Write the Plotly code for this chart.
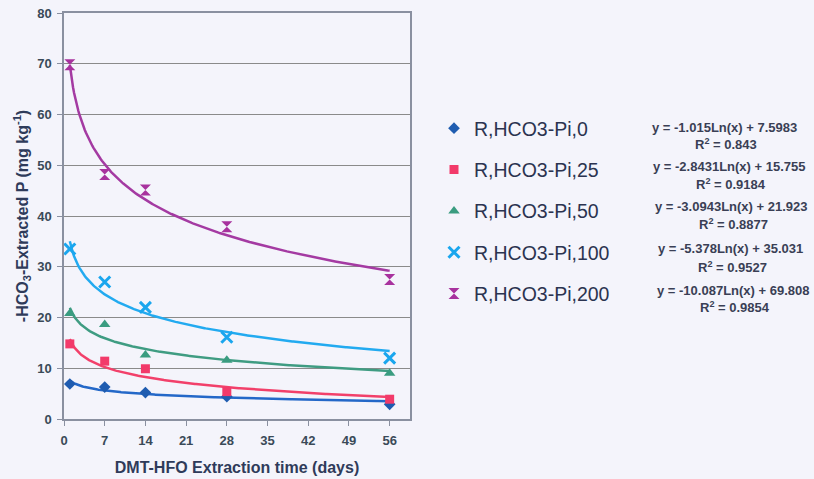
import numpy as np
import plotly.graph_objects as go

# ---- data ----
days = [1, 7, 14, 28, 56]
series_names = ["R,HCO3-Pi,0", "R,HCO3-Pi,25", "R,HCO3-Pi,50", "R,HCO3-Pi,100", "R,HCO3-Pi,200"]
p0 = [6.9, 6.3, 5.2, 4.4, 2.9]
p25 = [14.8, 11.4, 9.9, 5.4, 3.9]
p50 = [20.8, 18.6, 12.6, 11.6, 9.0]
p100 = [33.5, 27.0, 22.0, 16.1, 12.0]
p200 = [69.8, 48.2, 45.1, 37.9, 27.5]
values = [p0, p25, p50, p100, p200]

# displayed trendline equations y = a*Ln(x) + b
slopes = [-1.015, -2.8431, -3.0943, -5.378, -10.087]
intercepts = [7.5983, 15.755, 21.923, 35.031, 69.808]
eq_labels = ["y = -1.015Ln(x) + 7.5983", "y = -2.8431Ln(x) + 15.755", "y = -3.0943Ln(x) + 21.923",
             "y = -5.378Ln(x) + 35.031", "y = -10.087Ln(x) + 69.808"]
r2_labels = ["R<sup>2</sup> = 0.843", "R<sup>2</sup> = 0.9184", "R<sup>2</sup> = 0.8877",
             "R<sup>2</sup> = 0.9527", "R<sup>2</sup> = 0.9854"]
x_ticks = [0, 7, 14, 21, 28, 35, 42, 49, 56]
y_ticks = [0, 10, 20, 30, 40, 50, 60, 70, 80]

# ---- styles ----
colors = ["#1f5cb0", "#f23a6a", "#3a9c80", "#1aa6ee", "#a8329e"]
line_colors = ["#2468c8", "#f2406a", "#3f9c82", "#22aaf0", "#a43aa2"]
symbols = ["diamond", "square", "triangle-up", "x-thin-open", "hourglass"]
sizes = [9, 9, 10, 11, 11]
bg = "#f4f4fb"

L, R, T, B = 64, 404, 13, 60
W, H = 814, 479
pw, ph = W - L - R, H - T - B

fig = go.Figure()
x_fit = np.linspace(1, 56, 300)
for i in range(5):
    fig.add_trace(go.Scatter(
        x=x_fit, y=slopes[i] * np.log(x_fit) + intercepts[i], mode="lines",
        line=dict(color=line_colors[i], width=2.5), showlegend=False, hoverinfo="skip"))
for i in range(5):
    mk = dict(color=colors[i], size=sizes[i], symbol=symbols[i])
    if symbols[i] == "x-thin-open":
        mk["line"] = dict(color=colors[i], width=3)
    fig.add_trace(go.Scatter(
        x=days, y=values[i], mode="markers", name=series_names[i], marker=mk,
        legendgroup=f"g{i}"))

def px2x(px):
    return (px - L) / pw

def py2y(py):
    return (H - B - py) / ph

eq_cx = [724, 729, 731, 730, 733]
eq_y = [127, 166, 206, 249, 290]
r2_y = [144, 184, 224, 267, 307]
eq_font = dict(family="Arial, Liberation Sans", size=13, color="#3a3f55", weight="bold")
ann = []
for i in range(5):
    ann.append(dict(x=px2x(eq_cx[i]), y=py2y(eq_y[i]), xref="paper", yref="paper", text=eq_labels[i],
                    showarrow=False, xanchor="center", yanchor="middle", font=eq_font))
    ann.append(dict(x=px2x(eq_cx[i] + 2), y=py2y(r2_y[i]), xref="paper", yref="paper", text=r2_labels[i],
                    showarrow=False, xanchor="center", yanchor="middle", font=eq_font))

ax_col = "#8a90a0"
tick_font = dict(size=13, family="Arial, Liberation Sans", color="#3a4a58", weight="bold")
fig.update_layout(
    width=W, height=H,
    margin=dict(l=L, r=R, t=T, b=B),
    paper_bgcolor=bg, plot_bgcolor=bg,
    font=dict(family="Arial, Liberation Sans", color="#3a4558"),
    xaxis=dict(range=[0, 59.5], tickvals=x_ticks, showgrid=False, zeroline=False, automargin=False,
               showline=True, linecolor=ax_col, linewidth=1.5, mirror=True,
               ticks="outside", ticklen=5, tickcolor=ax_col, ticklabelstandoff=4,
               tickfont=tick_font,
               title=dict(text="<b>DMT-HFO Extraction time (days)</b>", font=dict(size=16, color="#2f3b5a"),
                          standoff=14)),
    yaxis=dict(range=[0, 80], tickvals=y_ticks, showgrid=True, gridcolor="#8a8a8a", gridwidth=1,
               zeroline=False, showline=True, linecolor=ax_col, linewidth=1.5, mirror=True, automargin=False,
               ticks="outside", ticklen=5, tickcolor=ax_col, ticklabelstandoff=3,
               tickfont=tick_font,
               title=dict(text="<b>-HCO<sub>3</sub>-Extracted P (mg kg<sup>-1</sup>)</b>",
                          font=dict(size=16, color="#2f3b5a"), standoff=5)),
    legend=dict(x=px2x(434), y=py2y(109), xanchor="left", yanchor="top",
                font=dict(size=19.5, color="#2b3350"), tracegroupgap=13,
                bgcolor="rgba(0,0,0,0)"),
    annotations=ann,
)
fig.write_html("out.html")
